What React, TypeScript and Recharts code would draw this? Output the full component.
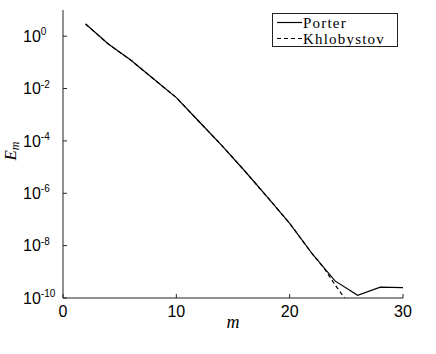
import { Legend, Line, LineChart, XAxis, YAxis } from 'recharts';

// Porter: every even m from 2 to 30
const mPorter = [2, 4, 6, 8, 10, 12, 14, 16, 18, 20, 22, 24, 26, 28, 30];
const ePorter = [
  2.9, 0.5, 0.12, 0.023, 4.5e-3, 5.5e-4, 6.8e-5, 7.4e-6, 7.4e-7, 7.1e-8, 4.8e-9, 4.5e-10, 1.26e-10,
  2.6e-10, 2.5e-10,
];

// Khlobystov: follows Porter, then drops off near m = 24
const mKhlobystov = [2, 4, 6, 8, 10, 12, 14, 16, 18, 20, 22, 23, 24, 25];
const eKhlobystov = [
  2.9, 0.5, 0.12, 0.023, 4.5e-3, 5.5e-4, 6.8e-5, 7.4e-6, 7.4e-7, 7.1e-8, 4.8e-9, 1.45e-9, 3.2e-10,
  8e-11,
];

const xTicks = [0, 10, 20, 30];
const yTicks = [1e-10, 1e-8, 1e-6, 1e-4, 1e-2, 1];

const porterData = mPorter.map((m, i) => ({ m, e: ePorter[i] }));
const khlobystovData = mKhlobystov.map((m, i) => ({ m, e: eKhlobystov[i] }));

const sans = 'Liberation Sans, Arial, Helvetica, sans-serif';
const serif = 'Liberation Serif, Times New Roman, serif';
const boxColor = '#222';

const BottomTick = ({ x, y, payload }: any) => (
  <g>
    <line x1={x} y1={y} x2={x} y2={y - 4} stroke={boxColor} />
    <text x={x} y={y + 19} textAnchor="middle" fontSize={16} fontFamily={sans} fill="#000">
      {payload.value}
    </text>
  </g>
);

const TopTick = ({ x, y }: any) => <line x1={x} y1={y} x2={x} y2={y + 4} stroke={boxColor} />;

const LeftTick = ({ x, y, payload }: any) => {
  const exp = Math.round(Math.log10(payload.value));
  return (
    <g>
      <line x1={x} y1={y} x2={x + 4} y2={y} stroke={boxColor} />
      <text x={x - 40} y={y + 5.6} fontSize={16} fontFamily={sans} fill="#000">
        10
        <tspan dy={-6.5} fontSize={10}>
          {exp}
        </tspan>
      </text>
    </g>
  );
};

const RightTick = ({ x, y }: any) => <line x1={x} y1={y} x2={x - 4} y2={y} stroke={boxColor} />;

const XLabel = ({ viewBox }: any) => (
  <text
    x={viewBox.x + viewBox.width / 2}
    y={viewBox.y + 30}
    textAnchor="middle"
    fontSize={18}
    fontStyle="italic"
    fontFamily={serif}
    fill="#000"
  >
    m
  </text>
);

const YLabel = ({ viewBox }: any) => {
  const cx = 16;
  const cy = viewBox.y + viewBox.height / 2 - 3;
  return (
    <text
      x={cx}
      y={cy}
      transform={`rotate(-90, ${cx}, ${cy})`}
      textAnchor="middle"
      fontSize={17}
      fontStyle="italic"
      fontFamily={serif}
      fill="#000"
    >
      E
      <tspan dy={3} fontSize={12}>
        m
      </tspan>
    </text>
  );
};

const LegendBox = () => (
  <svg width={126} height={34} style={{ display: 'block', background: '#fff' }}>
    <rect x={0.5} y={0.5} width={125} height={33} fill="#fff" stroke={boxColor} />
    <line x1={5} y1={9.5} x2={30} y2={9.5} stroke="#000" strokeWidth={1.2} />
    <text x={31} y={14.5} fontSize={15} fontFamily={serif} fill="#000" letterSpacing={1.2}>
      Porter
    </text>
    <line x1={5} y1={25.5} x2={30} y2={25.5} stroke="#000" strokeWidth={1.2} strokeDasharray="4 3" />
    <text x={31} y={30.5} fontSize={15} fontFamily={serif} fill="#000" letterSpacing={1.2}>
      Khlobystov
    </text>
  </svg>
);

export default function App() {
  return (
    <div style={{ position: 'absolute', left: 0, top: 0, background: '#fff' }}>
      <LineChart width={436} height={354} margin={{ top: 10, right: 33, bottom: 0, left: 0 }}>
        <XAxis
          dataKey="m"
          type="number"
          domain={[0, 30]}
          ticks={xTicks}
          interval={0}
          height={56}
          tickSize={0}
          tickMargin={0}
          tickLine={false}
          axisLine={{ stroke: boxColor }}
          tick={<BottomTick />}
          label={<XLabel />}
          allowDataOverflow
        />
        <XAxis
          xAxisId="top"
          orientation="top"
          dataKey="m"
          type="number"
          domain={[0, 30]}
          ticks={xTicks}
          interval={0}
          height={0}
          tickSize={0}
          tickMargin={0}
          tickLine={false}
          axisLine={{ stroke: boxColor }}
          tick={<TopTick />}
          allowDataOverflow
        />
        <YAxis
          dataKey="e"
          type="number"
          scale="log"
          domain={[1e-10, 10]}
          ticks={yTicks}
          interval={0}
          width={63}
          tickSize={0}
          tickMargin={0}
          tickLine={false}
          axisLine={{ stroke: boxColor }}
          tick={<LeftTick />}
          label={<YLabel />}
          allowDataOverflow
        />
        <YAxis
          yAxisId="right"
          orientation="right"
          type="number"
          scale="log"
          domain={[1e-10, 10]}
          ticks={yTicks}
          interval={0}
          width={0}
          tickSize={0}
          tickMargin={0}
          tickLine={false}
          axisLine={{ stroke: boxColor }}
          tick={<RightTick />}
          allowDataOverflow
        />
        <Legend
          layout="horizontal"
          verticalAlign="middle"
          align="center"
          content={<LegendBox />}
          wrapperStyle={{ position: 'absolute', left: 272, top: 13, width: 126, height: 34 }}
        />
        <Line
          data={khlobystovData}
          dataKey="e"
          name="Khlobystov"
          stroke="#000"
          strokeWidth={1.2}
          strokeDasharray="4 3"
          dot={false}
          isAnimationActive={false}
        />
        <Line
          data={porterData}
          dataKey="e"
          name="Porter"
          stroke="#000"
          strokeWidth={1.2}
          dot={false}
          isAnimationActive={false}
        />
      </LineChart>
    </div>
  );
}
